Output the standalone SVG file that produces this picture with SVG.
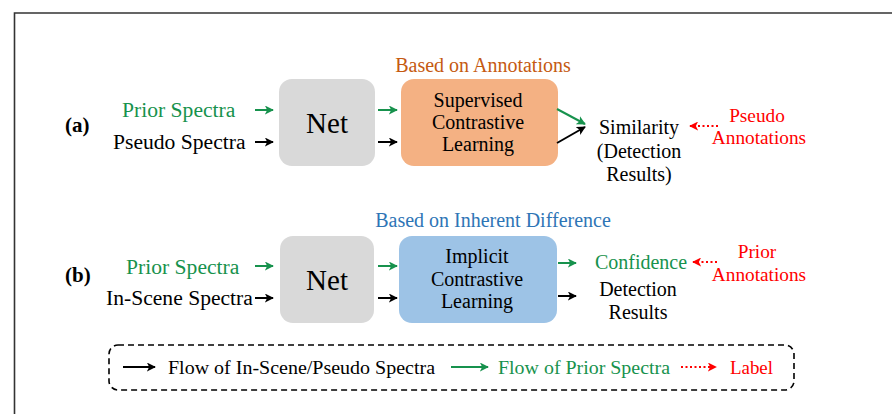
<svg xmlns="http://www.w3.org/2000/svg" width="892" height="414" viewBox="0 0 892 414">
<defs>
<style>
text{font-family:"Liberation Serif","Times New Roman",serif;}
.t{font-size:21.6px;fill:#000;}
.g{fill:#17924d;}
.r{fill:#ff0000;}
.lb{font-size:21px;font-weight:bold;}
.net{font-size:29px;}
.box{font-size:20px;text-anchor:middle;}
.out{font-size:20px;text-anchor:middle;}
.ann{font-size:19.3px;text-anchor:middle;fill:#ff0000;}
.ak{stroke:#000;stroke-width:2;fill:none;}
.ag{stroke:#17924d;stroke-width:2;fill:none;}
.ar{stroke:#ff0000;stroke-width:2;fill:none;stroke-dasharray:2 2.5;}
</style>
<marker id="mk" viewBox="0 0 10 10" refX="9" refY="5" markerWidth="4.5" markerHeight="4.5" orient="auto" markerUnits="strokeWidth"><path d="M0,0 L10,5 L0,10 L2.5,5 Z" fill="#000"/></marker>
<marker id="mg" viewBox="0 0 10 10" refX="9" refY="5" markerWidth="4.5" markerHeight="4.5" orient="auto" markerUnits="strokeWidth"><path d="M0,0 L10,5 L0,10 L2.5,5 Z" fill="#17924d"/></marker>
<marker id="mr" viewBox="0 0 10 10" refX="9" refY="5" markerWidth="4.5" markerHeight="4.5" orient="auto" markerUnits="strokeWidth"><path d="M0,0 L10,5 L0,10 L2.5,5 Z" fill="#ff0000"/></marker>
</defs>
<rect width="892" height="414" fill="#fff"/>
<polyline points="14.5,414 14.5,13 892,13" fill="none" stroke="#333" stroke-width="1.6"/>

<!-- Row (a) -->
<g id="label-a"><text class="t lb" x="65" y="132">(a)</text></g>
<g id="input-a">
<text class="t g" x="122" y="117">Prior Spectra</text>
<text class="t" x="113" y="149">Pseudo Spectra</text>
</g>
<g id="net-a">
<rect x="279" y="79" width="96" height="87" rx="13" fill="#d9d9d9"/>
<text class="net" x="327" y="133" text-anchor="middle">Net</text>
</g>
<g id="scl">
<text x="483" y="72" font-size="20" fill="#c55a11" text-anchor="middle">Based on Annotations</text>
<rect x="401" y="79" width="157" height="87" rx="13" fill="#f4b183"/>
<text class="box" x="478" y="107">Supervised</text>
<text class="box" x="478" y="129">Contrastive</text>
<text class="box" x="478" y="151">Learning</text>
</g>
<g id="out-a">
<text class="out" x="639" y="134">Similarity</text>
<text class="out" x="639" y="158">(Detection</text>
<text class="out" x="639" y="181">Results)</text>
</g>
<g id="ann-a">
<text class="ann" x="757" y="122">Pseudo</text>
<text class="ann" x="759" y="144">Annotations</text>
</g>

<!-- Row (b) -->
<g id="label-b"><text class="t lb" x="65" y="282">(b)</text></g>
<g id="input-b">
<text class="t g" x="126" y="274">Prior Spectra</text>
<text class="t" x="106" y="305">In-Scene Spectra</text>
</g>
<g id="net-b">
<rect x="280" y="236" width="94" height="87" rx="13" fill="#d9d9d9"/>
<text class="net" x="327" y="290" text-anchor="middle">Net</text>
</g>
<g id="icl">
<text x="493" y="227" font-size="20" fill="#2e75b6" text-anchor="middle">Based on Inherent Difference</text>
<rect x="399" y="236" width="158" height="87" rx="13" fill="#9dc3e6"/>
<text class="box" x="477" y="263">Implicit</text>
<text class="box" x="477" y="286">Contrastive</text>
<text class="box" x="477" y="308">Learning</text>
</g>
<g id="out-b">
<text class="out g" x="641" y="269">Confidence</text>
<text class="out" x="638" y="296">Detection</text>
<text class="out" x="638" y="319">Results</text>
</g>
<g id="ann-b">
<text class="ann" x="757" y="258">Prior</text>
<text class="ann" x="759" y="281">Annotations</text>
</g>

<!-- Connectors -->
<g id="connectors">
<line class="ag" x1="255" y1="110" x2="273" y2="110" marker-end="url(#mg)"/>
<line class="ak" x1="255" y1="142" x2="273" y2="142" marker-end="url(#mk)"/>
<line class="ag" x1="378" y1="110" x2="397" y2="110" marker-end="url(#mg)"/>
<line class="ak" x1="378" y1="142" x2="397" y2="142" marker-end="url(#mk)"/>
<line class="ag" x1="557" y1="109" x2="585" y2="124" marker-end="url(#mg)"/>
<line class="ak" x1="557" y1="143" x2="585" y2="127" marker-end="url(#mk)"/>
<line class="ar" x1="718" y1="126" x2="690" y2="126" marker-end="url(#mr)"/>

<line class="ag" x1="255" y1="266" x2="273" y2="266" marker-end="url(#mg)"/>
<line class="ak" x1="255" y1="298" x2="273" y2="298" marker-end="url(#mk)"/>
<line class="ag" x1="378" y1="266" x2="397" y2="266" marker-end="url(#mg)"/>
<line class="ak" x1="378" y1="298" x2="397" y2="298" marker-end="url(#mk)"/>
<line class="ag" x1="558" y1="263" x2="576" y2="263" marker-end="url(#mg)"/>
<line class="ak" x1="558" y1="296" x2="576" y2="296" marker-end="url(#mk)"/>
<line class="ar" x1="717" y1="262" x2="693" y2="262" marker-end="url(#mr)"/>
</g>

<!-- Legend -->
<g id="legend">
<rect x="109" y="345" width="685" height="45" rx="9" fill="none" stroke="#000" stroke-width="1.6" stroke-dasharray="6 4"/>
<line class="ak" x1="123" y1="367" x2="155" y2="367" marker-end="url(#mk)"/>
<text x="168" y="374" font-size="19" textLength="267" lengthAdjust="spacingAndGlyphs">Flow of In-Scene/Pseudo Spectra</text>
<line class="ag" x1="451" y1="367" x2="488" y2="367" marker-end="url(#mg)"/>
<text x="498" y="374" font-size="19" fill="#17924d" textLength="172" lengthAdjust="spacingAndGlyphs">Flow of Prior Spectra</text>
<line class="ar" x1="681" y1="367" x2="716" y2="367" marker-end="url(#mr)"/>
<text x="730" y="374" font-size="19" fill="#ff0000" textLength="43" lengthAdjust="spacingAndGlyphs">Label</text>
</g>
</svg>
